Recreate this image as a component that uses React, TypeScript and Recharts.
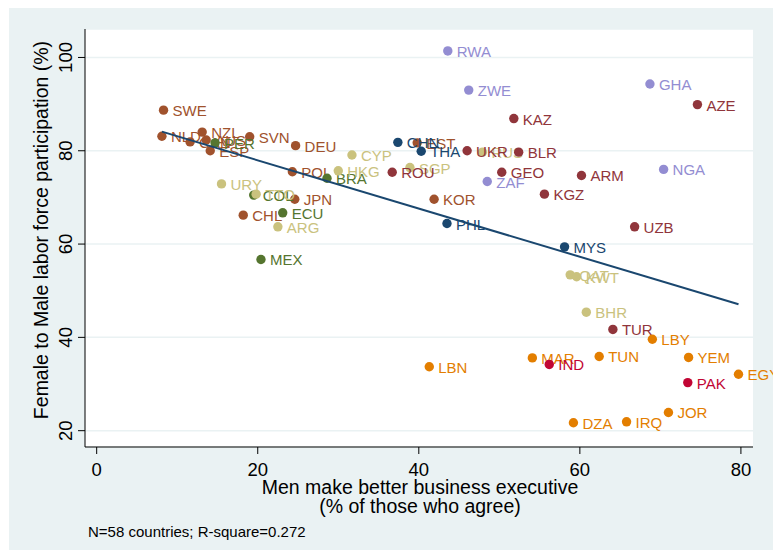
import React from 'react';
import { ScatterChart, Scatter, XAxis, YAxis, CartesianGrid, Label } from 'recharts';

// Stata s2color palette, one colour per country group
const sienna = '#A0522D';
const forest = '#55752F';
const khaki = '#CAC27E';
const navy = '#1A476F';
const maroon = '#90353B';
const lavender = '#938DD2';
const dkorange = '#E37E00';
const cranberry = '#C10534';

// x = men make better business executive (%), y = female/male LFP (%)
const highIncomeOecd = [
  { name: 'SWE', x: 8.3, y: 88.7 },
  { name: 'NLD', x: 8.1, y: 83.1 },
  { name: 'NZL', x: 13.1, y: 84.0 },
  { name: 'CAN', x: 11.6, y: 81.9 },
  { name: 'AUS', x: 13.6, y: 82.3 },
  { name: 'ESP', x: 14.1, y: 80.0 },
  { name: 'SVN', x: 19.0, y: 83.0 },
  { name: 'DEU', x: 24.7, y: 81.1 },
  { name: 'POL', x: 24.3, y: 75.5 },
  { name: 'JPN', x: 24.6, y: 69.6 },
  { name: 'CHL', x: 18.2, y: 66.2 },
  { name: 'KOR', x: 41.9, y: 69.6 },
  { name: 'EST', x: 39.8, y: 81.7 },
];

const latinAmerica = [
  { name: 'PER', x: 14.7, y: 81.7 },
  { name: 'BRA', x: 28.6, y: 74.1 },
  { name: 'COL', x: 19.5, y: 70.5 },
  { name: 'ECU', x: 23.1, y: 66.7 },
  { name: 'MEX', x: 20.4, y: 56.7 },
];

const highIncomeOther = [
  { name: 'URY', x: 15.5, y: 72.9 },
  { name: 'TTO', x: 19.8, y: 70.7 },
  { name: 'ARG', x: 22.5, y: 63.7 },
  { name: 'HKG', x: 30.0, y: 75.7 },
  { name: 'CYP', x: 31.7, y: 79.1 },
  { name: 'SGP', x: 38.9, y: 76.4 },
  { name: 'RUS', x: 47.9, y: 79.7 },
  { name: 'QAT', x: 58.8, y: 53.4 },
  { name: 'KWT', x: 59.6, y: 53.0 },
  { name: 'BHR', x: 60.8, y: 45.4 },
];

const eastAsia = [
  { name: 'CHN', x: 37.4, y: 81.8 },
  { name: 'THA', x: 40.3, y: 79.9 },
  { name: 'PHL', x: 43.5, y: 64.4 },
  { name: 'MYS', x: 58.1, y: 59.4 },
];

const europeCentralAsia = [
  { name: 'KAZ', x: 51.8, y: 86.9 },
  { name: 'UKR', x: 46.0, y: 80.0 },
  { name: 'BLR', x: 52.4, y: 79.7 },
  { name: 'ROU', x: 36.7, y: 75.4 },
  { name: 'GEO', x: 50.3, y: 75.4 },
  { name: 'KGZ', x: 55.6, y: 70.7 },
  { name: 'ARM', x: 60.2, y: 74.7 },
  { name: 'UZB', x: 66.8, y: 63.7 },
  { name: 'AZE', x: 74.6, y: 89.9 },
  { name: 'TUR', x: 64.1, y: 41.7 },
];

const subSaharanAfrica = [
  { name: 'RWA', x: 43.6, y: 101.4 },
  { name: 'ZWE', x: 46.2, y: 93.0 },
  { name: 'ZAF', x: 48.5, y: 73.4 },
  { name: 'GHA', x: 68.7, y: 94.3 },
  { name: 'NGA', x: 70.4, y: 76.0 },
];

const middleEastNorthAfrica = [
  { name: 'LBN', x: 41.3, y: 33.7 },
  { name: 'MAR', x: 54.1, y: 35.6 },
  { name: 'TUN', x: 62.4, y: 35.9 },
  { name: 'LBY', x: 69.0, y: 39.6 },
  { name: 'YEM', x: 73.5, y: 35.7 },
  { name: 'EGY', x: 79.7, y: 32.1 },
  { name: 'JOR', x: 71.0, y: 23.9 },
  { name: 'DZA', x: 59.2, y: 21.7 },
  { name: 'IRQ', x: 65.8, y: 21.9 },
];

const southAsia = [
  { name: 'IND', x: 56.2, y: 34.2 },
  { name: 'PAK', x: 73.4, y: 30.3 },
];

// fitted line end points, as drawn
const fitLine = [
  { x: 8.1, y: 84.1 },
  { x: 79.7, y: 47.1 },
];

const xTicks = [0, 20, 40, 60, 80];
const yTicks = [20, 40, 60, 80, 100];

const groups = [
  { data: highIncomeOecd, color: sienna },
  { data: latinAmerica, color: forest },
  { data: highIncomeOther, color: khaki },
  { data: eastAsia, color: navy },
  { data: europeCentralAsia, color: maroon },
  { data: subSaharanAfrica, color: lavender },
  { data: middleEastNorthAfrica, color: dkorange },
  { data: southAsia, color: cranberry },
];

const FONT = '"Liberation Sans", Arial, sans-serif';

const makeShape = (color: string) => (props: any) => {
  const { cx, cy, payload } = props;
  return (
    <g>
      <circle cx={cx} cy={cy} r={4.7} fill={color} />
      <text x={cx + 9} y={cy + 6} fill={color} fontSize={15} fontFamily={FONT}>
        {payload.name}
      </text>
    </g>
  );
};

const XTick = (props: any) => (
  <text x={props.x} y={476} textAnchor="middle" fontSize={18.5} fontFamily={FONT} fill="#000">
    {props.payload.value}
  </text>
);

const YTick = (props: any) => (
  <text
    transform={`translate(71.5, ${props.y}) rotate(-90)`}
    textAnchor="middle"
    fontSize={18.5}
    fontFamily={FONT}
    fill="#000"
  >
    {props.payload.value}
  </text>
);

export default function App() {
  return (
    <div style={{ position: 'absolute', left: 0, top: 0, width: 773, height: 556, background: '#fff' }}>
      <div style={{ position: 'absolute', left: 9, top: 8, width: 764, height: 542, background: '#EAF2F3' }} />
      <div style={{ position: 'absolute', left: 0, top: 0 }}>
        <ScatterChart width={773} height={556} margin={{ top: 29, right: 20, bottom: 79, left: 0 }}>
          <CartesianGrid vertical={false} stroke="#EAF2F3" strokeWidth={1.5} fill="#fff" />
          <XAxis
            type="number"
            dataKey="x"
            domain={[-1.45, 81.5]}
            ticks={xTicks}
            height={30}
            tickSize={7}
            axisLine={{ stroke: '#000', strokeWidth: 1 }}
            tickLine={{ stroke: '#000', strokeWidth: 1 }}
            tick={<XTick />}
          >
            <Label
              content={() => (
                <g fontFamily={FONT} fontSize={19.5} fill="#000" textAnchor="middle">
                  <text x={420} y={494}>Men make better business executive</text>
                  <text x={420} y={513}>(% of those who agree)</text>
                  <text x={88} y={537} fontSize={15} textAnchor="start">
                    N=58 countries; R-square=0.272
                  </text>
                </g>
              )}
            />
          </XAxis>
          <YAxis
            type="number"
            dataKey="y"
            domain={[16.5, 106.1]}
            ticks={yTicks}
            width={85}
            tickSize={7}
            axisLine={{ stroke: '#000', strokeWidth: 1 }}
            tickLine={{ stroke: '#000', strokeWidth: 1 }}
            tick={<YTick />}
          >
            <Label
              content={() => (
                <text
                  transform="translate(47.5, 230) rotate(-90)"
                  textAnchor="middle"
                  fontFamily={FONT}
                  fontSize={19.5}
                  fill="#000"
                >
                  Female to Male labor force participation (%)
                </text>
              )}
            />
          </YAxis>
          {groups.map((g, i) => (
            <Scatter
              key={i}
              data={g.data}
              fill={g.color}
              shape={makeShape(g.color)}
              isAnimationActive={false}
            />
          ))}
          <Scatter
            data={fitLine}
            line={{ stroke: navy, strokeWidth: 2 }}
            shape={() => <g />}
            isAnimationActive={false}
          />
        </ScatterChart>
      </div>
    </div>
  );
}
